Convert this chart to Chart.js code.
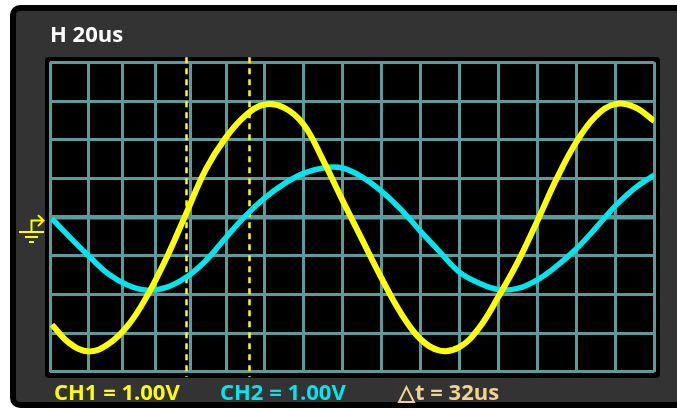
<!DOCTYPE html>
<html>
<head>
  <title>Scope capture</title>
  <meta charset="UTF-8">
  <script src="https://cdn.jsdelivr.net/npm/chart.js@4.4.1/dist/chart.umd.min.js"></script>
  <style>
    body {
      margin: 0;
      padding: 0;
      background-color: #fff;
      overflow: hidden;
      font-family: "Open Sans", Arial, sans-serif;
    }
    #wrap { position: relative; width: 677px; height: 410px; overflow: hidden; }
    .panel {
      position: absolute;
      left: 10px; top: 5px;
      width: 720px; height: 403px;
      box-sizing: border-box;
      background-color: #333;
      border: 6px solid #000;
      border-radius: 10px;
    }
    .screen {
      position: absolute;
      left: 45px; top: 57px;
      width: 615px; height: 321px;
      background-color: #000;
      border-radius: 4px;
    }
    canvas { position: absolute; left: 0; top: 0; }
    .label {
      position: absolute;
      font-size: 22px;
      font-weight: 700;
      line-height: 22px;
      white-space: nowrap;
    }
    .hdr { left: 50px; top: 22px; color: #fff; }
    .ch1 { left: 54px; top: 380px; color: #ffff00; }
    .ch2 { left: 220px; top: 380px; color: #00e6ee; }
    .dt  { left: 398px; top: 380px; color: #f2d38c; }
  </style>
</head>
<body>
  <div id="wrap">
    <div class="panel"></div>
    <div class="screen"></div>
    <canvas id="scope" width="677" height="410"></canvas>
    <div class="label hdr">H 20us</div>
    <div class="label ch1">CH1 = 1.00V</div>
    <div class="label ch2">CH2 = 1.00V</div>
    <div class="label dt">△t = 32us</div>
  </div>

  <script>
    // time axis in us, vertical in divisions (1.00V/div)
    const timeUs = [1, 10, 20, 30, 40, 50, 60, 70, 80, 90, 100, 110, 120, 130, 140, 150,
                    160, 170, 180, 190, 200, 210, 220, 230, 240, 250, 260, 270, 280, 290, 300, 310];
    const ch1 = [-2.78, -3.26, -3.47, -3.28, -2.80, -2.02, -1.03, 0.11, 1.24, 2.04, 2.61, 2.91,
                 2.83, 2.40, 1.48, 0.44, -0.57, -1.57, -2.48, -3.15, -3.45, -3.36, -2.87, -2.06,
                 -1.16, -0.10, 1.00, 1.94, 2.61, 2.92, 2.84, 2.48];
    const ch2 = [-0.04, -0.51, -1.01, -1.47, -1.76, -1.89, -1.81, -1.55, -1.12, -0.54, 0.02, 0.49,
                 0.86, 1.13, 1.27, 1.27, 1.04, 0.67, 0.20, -0.36, -0.90, -1.42, -1.70, -1.87,
                 -1.84, -1.62, -1.26, -0.82, -0.28, 0.29, 0.75, 1.09];
    const gridTimes = [0, 20, 37, 54, 72, 90.6, 110, 130, 150, 170, 190, 210, 230, 250, 270, 290, 310];
    const cursorTimes = [69.6, 102.3];

    const yellow = '#ffff00';
    const cyan = '#00e6ee';
    const gridColor = '#5b9b9b';

    const cursors = {
      id: 'cursors',
      beforeDatasetsDraw(chart) {
        const { ctx, chartArea, scales } = chart;
        ctx.save();
        ctx.strokeStyle = yellow;
        ctx.lineWidth = 2.5;
        ctx.setLineDash([6, 5]);
        cursorTimes.forEach(t => {
          const x = Math.round(scales.x.getPixelForValue(t)) + 0.5;
          ctx.beginPath();
          ctx.moveTo(x, chartArea.top - 5);
          ctx.lineTo(x, chartArea.bottom + 5);
          ctx.stroke();
        });
        ctx.restore();
      }
    };

    // ground marker for CH1, left of the screen
    const groundMark = {
      id: 'groundMark',
      afterDraw(chart) {
        const { ctx, scales } = chart;
        const y0 = scales.y.getPixelForValue(0);
        ctx.save();
        ctx.strokeStyle = yellow;
        ctx.lineWidth = 2;
        ctx.beginPath();
        ctx.moveTo(31.5, y0 + 15); ctx.lineTo(31.5, y0 + 3.5); ctx.lineTo(42, y0 + 3.5);
        ctx.moveTo(38, y0 - 2); ctx.lineTo(43.5, y0 + 3.5); ctx.lineTo(38, y0 + 9);
        ctx.moveTo(19, y0 + 15); ctx.lineTo(44, y0 + 15);
        ctx.moveTo(25, y0 + 20); ctx.lineTo(38, y0 + 20);
        ctx.moveTo(29, y0 + 25); ctx.lineTo(34, y0 + 25);
        ctx.stroke();
        ctx.restore();
      }
    };

    new Chart(document.getElementById('scope'), {
      type: 'line',
      data: {
        datasets: [
          {
            label: 'CH1',
            data: timeUs.map((t, i) => ({ x: t, y: ch1[i] })),
            borderColor: yellow,
            borderWidth: 6,
            pointRadius: 0,
            tension: 0.4,
            fill: false
          },
          {
            label: 'CH2',
            data: timeUs.map((t, i) => ({ x: t, y: ch2[i] })),
            borderColor: cyan,
            borderWidth: 5.5,
            pointRadius: 0,
            tension: 0.4,
            fill: false
          }
        ]
      },
      options: {
        responsive: false,
        devicePixelRatio: 1,
        animation: false,
        layout: { padding: { left: 50, top: 62.3, right: 22.7, bottom: 38.1 } },
        plugins: { legend: { display: false }, tooltip: { enabled: false } },
        scales: {
          x: {
            type: 'linear',
            min: 0,
            max: 310,
            afterBuildTicks: s => { s.ticks = gridTimes.map(v => ({ value: v })); },
            ticks: { display: false },
            border: { display: false },
            grid: { color: gridColor, lineWidth: 3, drawTicks: false }
          },
          y: {
            min: -4,
            max: 4,
            ticks: { display: false, stepSize: 1 },
            border: { display: false },
            grid: {
              color: gridColor,
              drawTicks: false,
              lineWidth: c => (c.tick && c.tick.value === 0 ? 4.5 : 3)
            }
          }
        }
      },
      plugins: [cursors, groundMark]
    });
  </script>
</body>
</html>
